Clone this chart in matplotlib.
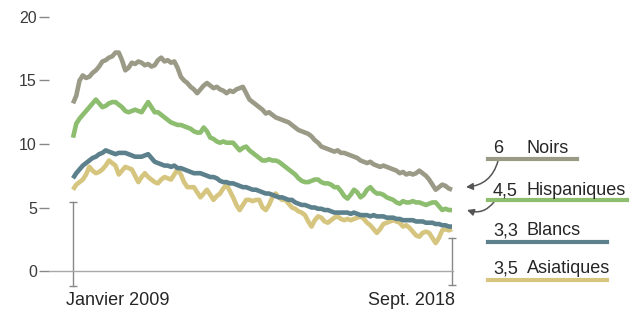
import matplotlib
matplotlib.use('Agg')
import matplotlib.pyplot as plt
from matplotlib.lines import Line2D
import numpy as np

W, H = 639, 312
plt.rcParams['font.family'] = ['Liberation Sans', 'DejaVu Sans']

# Monthly unemployment rates, Jan 2009 .. Sept 2018 (117 months)
noirs = [13.2, 13.8, 15.0, 15.4, 15.2, 15.3, 15.6, 15.8, 16.1, 16.5,
         16.6, 16.8, 16.9, 17.2, 17.2, 16.6, 15.8, 16.0, 16.4, 16.3,
         16.5, 16.4, 16.2, 16.3, 16.1, 16.2, 16.6, 16.8, 16.5, 16.6,
         16.4, 16.5, 16.0, 15.3, 15.0, 14.8, 14.5, 14.3, 14.0, 14.3,
         14.6, 14.8, 14.6, 14.4, 14.5, 14.3, 14.2, 14.0, 14.2, 14.1,
         14.3, 14.4, 14.5, 14.0, 13.5, 13.3, 13.1, 12.9, 12.7, 12.4,
         12.5, 12.3, 12.1, 12.0, 11.9, 11.8, 11.7, 11.5, 11.3, 11.1,
         11.0, 10.9, 10.8, 10.6, 10.3, 10.1, 9.8, 9.7, 9.6, 9.5,
         9.4, 9.5, 9.3, 9.3, 9.2, 9.1, 9.0, 8.9, 8.7, 8.6,
         8.5, 8.6, 8.4, 8.3, 8.2, 8.3, 8.2, 8.1, 8.0, 7.9,
         7.7, 7.8, 7.6, 7.7, 7.6, 7.7, 7.9, 7.7, 7.5, 7.2,
         6.8, 6.4, 6.6, 6.8, 6.7, 6.5, 6.4]
hispaniques = [10.5, 11.6, 12.0, 12.3, 12.6, 12.9, 13.2, 13.5, 13.2, 12.9,
               13.0, 13.2, 13.3, 13.3, 13.1, 12.9, 12.6, 12.5, 12.6, 12.7,
               12.6, 12.5, 12.9, 13.3, 12.9, 12.5, 12.5, 12.3, 12.1, 11.9,
               11.7, 11.6, 11.5, 11.5, 11.4, 11.3, 11.2, 11.0, 10.9, 10.9,
               11.3, 11.0, 10.5, 10.4, 10.2, 10.1, 10.2, 10.1, 10.1, 10.1,
               9.8, 9.5, 9.7, 9.8, 9.5, 9.3, 9.1, 8.9, 8.7, 8.7,
               8.8, 8.7, 8.7, 8.6, 8.4, 8.2, 8.0, 7.8, 7.6, 7.3,
               7.1, 7.0, 7.0, 7.1, 7.2, 7.2, 7.0, 6.9, 6.9, 6.8,
               6.6, 6.6, 6.3, 5.9, 5.7, 6.0, 6.4, 6.2, 5.8, 6.0,
               6.4, 6.6, 6.3, 6.1, 6.1, 6.0, 5.8, 5.7, 5.6, 5.4,
               5.3, 5.5, 5.4, 5.4, 5.5, 5.4, 5.4, 5.3, 5.2, 5.3,
               5.4, 5.4, 5.1, 4.8, 4.9, 4.8, 4.8]
blancs = [7.3, 7.7, 8.0, 8.3, 8.5, 8.7, 8.9, 9.0, 9.2, 9.3,
          9.5, 9.4, 9.3, 9.2, 9.3, 9.3, 9.3, 9.2, 9.1, 9.0,
          9.0, 9.0, 9.1, 9.2, 8.9, 8.6, 8.5, 8.4, 8.3, 8.3,
          8.2, 8.3, 8.1, 8.1, 8.0, 7.9, 7.8, 7.7, 7.7, 7.7,
          7.6, 7.5, 7.4, 7.4, 7.3, 7.1, 7.0, 7.0, 6.9, 6.9,
          6.8, 6.7, 6.6, 6.6, 6.5, 6.4, 6.4, 6.3, 6.2, 6.1,
          6.1, 6.0, 5.9, 5.8, 5.8, 5.7, 5.6, 5.6, 5.4, 5.3,
          5.2, 5.2, 5.1, 5.0, 5.0, 4.9, 4.9, 4.8, 4.8, 4.7,
          4.6, 4.6, 4.6, 4.6, 4.6, 4.5, 4.6, 4.5, 4.4, 4.4,
          4.4, 4.3, 4.4, 4.3, 4.3, 4.3, 4.2, 4.2, 4.2, 4.1,
          4.1, 4.0, 4.0, 4.0, 4.0, 3.9, 3.9, 3.9, 3.8, 3.8,
          3.8, 3.7, 3.7, 3.6, 3.6, 3.5, 3.5]
asiatiques = [6.4, 6.8, 7.0, 7.2, 7.6, 8.2, 7.9, 7.7, 7.8, 8.0,
              8.3, 8.7, 8.5, 8.3, 7.6, 7.9, 8.2, 8.1, 8.0, 7.5,
              7.0, 7.4, 7.7, 7.4, 7.2, 7.0, 6.9, 7.2, 7.4, 7.3,
              7.2, 7.6, 8.0, 7.6, 7.0, 6.6, 6.6, 6.6, 6.2, 5.8,
              6.1, 6.4, 6.0, 5.6, 5.9, 6.1, 6.5, 6.8, 6.3, 5.8,
              5.2, 4.8, 5.2, 5.6, 5.6, 5.5, 5.6, 5.6, 5.0, 4.8,
              5.2, 5.8, 6.1, 5.8, 5.6, 5.6, 5.3, 5.0, 4.9, 4.7,
              4.6, 4.4, 3.9, 3.5, 4.0, 4.3, 4.2, 3.9, 3.8, 4.0,
              4.2, 4.3, 4.1, 4.0, 4.1, 4.0, 4.1, 4.2, 4.3, 4.1,
              3.8, 3.6, 3.3, 3.0, 3.3, 3.7, 3.8, 3.9, 4.0, 3.9,
              3.8, 3.5, 3.6, 3.4, 3.1, 2.8, 2.7, 3.0, 3.1, 3.0,
              2.6, 2.2, 2.6, 3.2, 3.3, 3.2, 3.3]

yticks = [0, 5, 10, 15, 20]
x_labels = ['Janvier 2009', 'Sept. 2018']
label_values = ['6', '4,5', '3,3', '3,5']
label_names = ['Noirs', 'Hispaniques', 'Blancs', 'Asiatiques']

c_noirs, c_hisp, c_bl, c_as = '#9a9a87', '#8dbd6e', '#5c808c', '#d6c57f'
txt = '#262626'

months = np.arange(len(noirs))

fig = plt.figure(figsize=(W / 100, H / 100), dpi=100)
ax = fig.add_axes([49 / W, 1 - 271 / H, (453 - 49) / W, (271 - 17) / H])
ax.set_xlim(-7.346, 116.3)
ax.set_ylim(0, 20)
for s in ['top', 'right', 'left']:
    ax.spines[s].set_visible(False)
ax.spines['bottom'].set_color('#a8a8a8')
ax.spines['bottom'].set_linewidth(1)
ax.set_xticks([])
ax.set_yticks(yticks)
ax.tick_params(axis='y', length=7.2, width=1, color='#888888',
               labelsize=11.5, labelcolor='#3a3a3a', pad=1.5)

for series, col in [(noirs, c_noirs), (hispaniques, c_hisp),
                    (asiatiques, c_as), (blancs, c_bl)]:
    ax.plot(months, series, color=col, lw=3.3, solid_joinstyle='round',
            solid_capstyle='butt', clip_on=False, zorder=3)

# start / end markers
ax.plot([months[0], months[0]], [-1.2, 5.4], color='#888888', lw=1,
        marker='_', ms=6, mew=1, clip_on=False)
ax.plot([months[-1], months[-1]], [-1.1, 2.6], color='#888888', lw=1,
        marker='_', ms=6, mew=1, clip_on=False)


def fx(x):
    return x / W


def fy(y):
    return 1 - y / H


fig.text(fx(66), fy(305), x_labels[0], ha='left', va='baseline',
         fontsize=13, color=txt)
fig.text(fx(455), fy(305), x_labels[1], ha='right', va='baseline',
         fontsize=13, color=txt)

# right-hand labels
baselines = [153, 195, 235, 273]
underlines = [159, 200, 242, 280]
ul_end = [577, 627, 607, 607]
cols = [c_noirs, c_hisp, c_bl, c_as]
for v, n, b, u, e, c in zip(label_values, label_names, baselines,
                            underlines, ul_end, cols):
    fig.text(fx(493), fy(b), v, ha='left', va='baseline', fontsize=13,
             color=txt)
    fig.text(fx(527), fy(b), n, ha='left', va='baseline', fontsize=13,
             color=txt)
    fig.add_artist(Line2D([fx(488), fx(e)], [fy(u), fy(u)], color=c,
                          lw=3, transform=fig.transFigure))

# arrows
for (sx, sy), (ex, ey) in [((498, 161), (466, 187)), ((494, 202), (467, 210))]:
    fig.add_artist(matplotlib.patches.FancyArrowPatch(
        (fx(sx), fy(sy)), (fx(ex), fy(ey)), transform=fig.transFigure,
        arrowstyle='-|>', connectionstyle='arc3,rad=-0.35',
        color='#555555', lw=1.1, mutation_scale=10, shrinkA=0, shrinkB=0))

fig.savefig('out.png', dpi=100)
